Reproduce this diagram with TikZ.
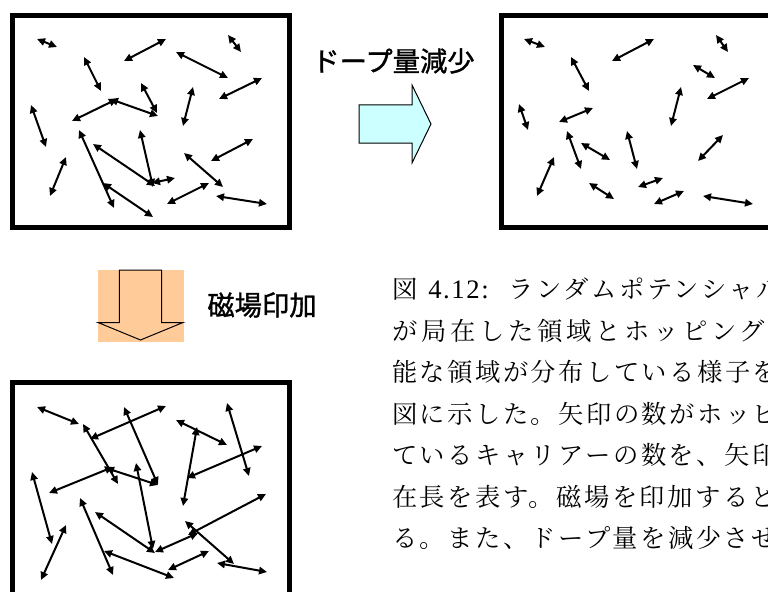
\documentclass[tikz,border=0pt]{standalone}
\usepackage{fontspec}
\usetikzlibrary{arrows.meta}
\newfontfamily\gothic{Noto Sans CJK JP}[FakeBold=1.2]
\IfFontExistsTF{Noto Serif CJK JP}{\newfontfamily\mincho{Noto Serif CJK JP}}{%
  \newfontfamily\mincho{Noto Sans CJK JP}}
\newfontfamily\romanf{Liberation Serif}
\definecolor{orangef}{HTML}{FFCC99}
\definecolor{cyanf}{HTML}{CCFFFF}
\tikzset{
  dar/.style={line width=1.5pt,{Triangle[length=6pt,width=5.5pt]}-{Triangle[length=6pt,width=5.5pt]}},
  frame/.style={line width=3.75pt},
  label/.style={inner sep=0pt,font=\gothic\fontsize{20.5pt}{20.5pt}\selectfont},
  capline/.style={anchor=base west,inner sep=0pt,font=\mincho\fontsize{19pt}{19pt}\selectfont\addfontfeature{LetterSpace=#1}},
  capline/.default=9.5,
  bigarrow/.style={line width=0.75pt,line join=miter}
}
\begin{document}
\begin{tikzpicture}[x=0.75pt,y=-0.75pt]
\useasboundingbox (0,0) rectangle (768,592);
\clip (0,0) rectangle (768,592);
\fill[white] (0,0) rectangle (768,592);

% ---- Box 1 (top left) ----
\draw[frame] (12.5,15.5) rectangle (289,227.5);
\foreach \a/\b/\c/\d in {
 37/39/57/47, 124/61/166/39, 228/35/241/52, 176/52/228/78, 84/57/101/91,
 219/99/262/78, 31/105/46/147, 72/121/117/99, 110/99/158/116, 141/83/157/113,
 193/87/183/126, 79/130/114/208, 93/144/155/186, 140/130/153/187, 152/183/175/178,
 66/157/50/196, 103/183/153/217, 184/153/223/187, 211/161/253/139, 167/204/209/183,
 216/196/267/204}
 \draw[dar] (\a,\b) -- (\c,\d);

% ---- Box 2 (top right) ----
\draw[frame] (501,15.5) rectangle (800,227.5);
\foreach \a/\b/\c/\d in {
 524/39/545/47, 612/61/654/39, 716/35/728/52, 571/57/589/91, 693/65/715/78,
 707/99/749/78, 519/104/528/130, 559/122/593/108, 681/87/671/126, 567/131/581/169,
 581/143/610/160, 627/131/637/169, 554/157/537/196, 723/135/698/161, 589/183/614/199,
 638/187/663/178, 654/204/684/191, 703/196/753/204}
 \draw[dar] (\a,\b) -- (\c,\d);

% ---- Box 3 (bottom left) ----
\draw[frame] (12.5,382.5) rectangle (289,650);
\foreach \a/\b/\c/\d in {
 37/407/79/424, 83/424/118/484, 90/439/166/406, 124/407/158/485, 176/420/227/445,
 227/403/249/476, 197/427/183/506, 187/478/262/446, 49/493/113/467, 106/468/158/485,
 32/472/52/544, 136/463/153/549, 80/498/113/575, 95/512/155/553, 66/525/41/580,
 155/552/198/533, 104/551/174/578, 185/521/234/564, 188/535/266/494, 168/570/209/551,
 217/563/267/572}
 \draw[dar] (\a,\b) -- (\c,\d);

% ---- block arrows ----
\draw[bigarrow,fill=cyanf] (359,105) -- (412,105) -- (412,85) -- (431,124)
  -- (412,163) -- (412,143) -- (359,143) -- cycle;
\fill[orangef] (97.7,270) rectangle (184,341.7);
\draw[bigarrow] (119.3,270) -- (161.7,270) -- (161.7,322.5) -- (183,322.5)
  -- (140.5,340) -- (98,322.5) -- (119.3,322.5) -- cycle;

% ---- labels ----
\node[label] (dope) at (393.5,61) {ドープ量減少};
\node[label] (mag) at (262,305) {磁場印加};

% ---- caption ----
\node[capline] (c1a) at (392,298.5) {図};
\node[anchor=base west,inner sep=0pt,font=\romanf\fontsize{20pt}{20pt}\selectfont\addfontfeature{LetterSpace=6}] (c1b) at (428,298.5) {4.12:};
\node[capline=10.5] (c1c) at (508,298.5) {ランダムポテンシャル};
\node[capline=14.5] (c2) at (392,340) {が局在した領域とホッピング};
\node[capline] (c3) at (392,381.5) {能な領域が分布している様子を};
\node[capline] (c4) at (392,423) {図に示した。矢印の数がホッピ};
\node[capline] (c5) at (392,464.5) {ているキャリアーの数を、矢印};
\node[capline] (c6) at (392,506) {在長を表す。磁場を印加すると};
\node[capline] (c7) at (392,547.5) {る。また、ドープ量を減少させ};
\end{tikzpicture}
\end{document}
